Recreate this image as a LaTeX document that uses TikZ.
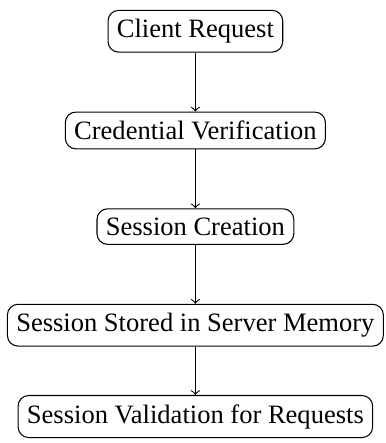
\documentclass[tikz,border=0pt]{standalone}
\usepackage{fontspec}
\setmainfont{Liberation Serif}
\usetikzlibrary{positioning, calc}

\begin{document}
\begin{tikzpicture}[>=to, node distance=0.78cm,
    stage/.style={draw, rounded corners, align=center}]

    % stages of the session flow
    \node[stage] (req) {Client Request};
    \node[stage, below=of req] (verify) {Credential Verification};
    \node[stage, below=of verify] (create) {Session Creation};
    \node[stage, below=of create] (store) {Session Stored in Server Memory};
    \node[stage, below=0.64cm of store] (check) {Session Validation for Requests};

    % arrows between stages
    \draw[->] (req) -- (verify);
    \draw[->] (verify) -- (create);
    \draw[->] (create) -- (store);
    \draw[->] (store) -- (check);

    % margins, scaled to the widest box
    \useasboundingbox let \p1=(store.west), \p2=(store.east), \p3=(req.north), \p4=(check.south),
        \n1={(\x2-\x1)/383} in
        (\x1-7*\n1, \y3+10*\n1) rectangle (\x2+2*\n1, \y4-5*\n1);

\end{tikzpicture}
\end{document}
